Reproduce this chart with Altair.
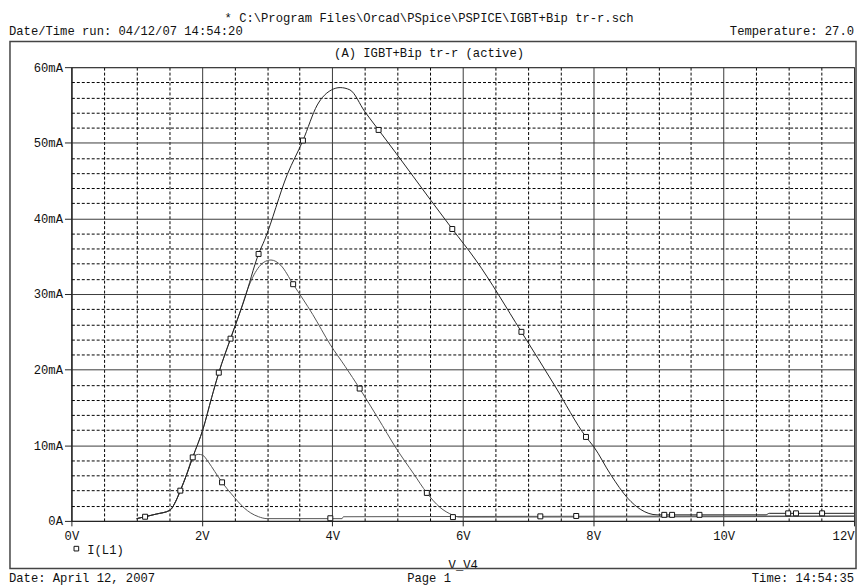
import altair as alt
import pandas as pd

FONT = "Liberation Mono, Courier New, monospace"
FS = 12.3
INK = "#111111"

# ---- header / footer texts ----
file_title = "* C:\\Program Files\\Orcad\\PSpice\\PSPICE\\IGBT+Bip tr-r.sch"
run_text = "Date/Time run: 04/12/07 14:54:20"
temp_text = "Temperature: 27.0"
plot_title = "(A) IGBT+Bip tr-r (active)"
date_text = "Date: April 12, 2007"
page_text = "Page 1"
time_text = "Time: 14:54:35"
x_title = "V_V4"
legend_label = "I(L1)"

# ---- traces (V in volts, I in mA) ----
c1_v = [1.00, 1.13, 1.30, 1.51, 1.60, 1.67, 1.77, 1.86, 1.95, 2.01, 2.10, 2.20, 2.31, 2.45, 2.55,
        2.65, 2.75, 2.87, 3.00, 4.15, 4.17, 12.0]
c1_i = [0.3, 0.55, 0.9, 1.4, 2.6, 4.0, 6.2, 8.4, 8.8, 8.7, 7.8, 6.5, 5.1, 3.6, 2.6,
        1.7, 1.05, 0.55, 0.3, 0.3, 0.55, 0.65]

cA_v = [1.00, 1.13, 1.30, 1.51, 1.60, 1.67, 1.77, 1.86, 2.02, 2.15, 2.26, 2.44, 2.60, 2.70, 2.86,
        2.95, 3.06, 3.21, 3.40, 3.70, 3.97, 4.20, 4.42, 4.70, 4.98, 5.25, 5.45, 5.65, 5.84, 5.95, 12.0]
cA_i = [0.3, 0.55, 0.9, 1.4, 2.6, 4.0, 6.2, 8.4, 12.2, 16.3, 19.6, 24.1, 28.0, 30.6, 33.4,
        34.2, 34.5, 33.8, 31.3, 27.3, 23.3, 20.4, 17.5, 13.6, 9.6, 6.2, 3.7, 1.8, 0.8, 0.5, 0.6]

cB_v = [1.00, 1.13, 1.30, 1.51, 1.60, 1.67, 1.77, 1.86, 2.02, 2.15, 2.26, 2.44, 2.65, 2.87, 2.96,
        3.31, 3.55, 3.77, 3.99, 4.12, 4.27, 4.50, 4.71, 4.98, 5.51, 5.84, 6.20, 6.90, 7.41, 7.89,
        8.01, 8.27, 8.53, 8.73, 8.98, 10.65, 10.70, 12.0]
cB_i = [0.3, 0.55, 0.9, 1.4, 2.6, 4.0, 6.2, 8.4, 12.2, 16.3, 19.6, 24.1, 29.2, 35.3, 37.1,
        45.8, 50.3, 55.0, 57.0, 57.3, 57.0, 54.1, 51.7, 48.6, 42.4, 38.6, 34.5, 25.0, 17.9, 11.1,
        9.8, 6.1, 3.0, 1.5, 0.8, 0.8, 1.0, 1.0]

# ---- trace markers ----
marker_v = [1.13, 1.67, 1.86, 2.26, 2.44, 2.31, 2.87, 3.40, 3.55, 3.97, 4.42, 4.71, 5.45, 5.84,
            5.85, 6.90, 7.19, 7.74, 7.89, 9.09, 9.21, 9.63, 10.99, 11.11, 11.51]
marker_i = [0.55, 4.0, 8.4, 19.6, 24.1, 5.1, 35.3, 31.3, 50.3, 0.35, 17.5, 51.7, 3.7, 38.6,
            0.5, 25.0, 0.6, 0.65, 11.1, 0.8, 0.8, 0.8, 1.0, 1.0, 1.0]

trace_names = ["t1", "t2", "t3"]
trace_colors = ["#555555", "#555555", "#222222"]

x_ticks = [i * 0.5 for i in range(25)]
y_ticks = list(range(0, 61, 2))

rows = []
for name, vs, cs in zip(trace_names, [c1_v, cA_v, cB_v], [c1_i, cA_i, cB_i]):
    for v, c in zip(vs, cs):
        rows.append({"trace": name, "V": v, "I": c})
lines_df = pd.DataFrame(rows)
markers_df = pd.DataFrame({"V": marker_v, "I": marker_i})

minor_x = "datum.value % 2 != 0"
minor_y = "datum.value % 10 != 0"

x_axis = alt.Axis(
    values=x_ticks,
    labelExpr="datum.value % 2 == 0 ? datum.value + 'V' : ''",
    labelOverlap=False,
    grid=True,
    gridDash={"condition": {"test": minor_x, "value": [3, 2]}, "value": []},
    gridColor={"condition": {"test": minor_x, "value": "#000000"}, "value": "#3a3a3a"},
    gridWidth=1,
    tickOpacity={"condition": {"test": minor_x, "value": 0}, "value": 1},
    tickSize=5, tickColor="#222222", domainColor="#222222",
    labelFont=FONT, labelFontSize=FS, labelColor=INK, labelPadding=4, labelBaseline="top",
    labelAlign={"condition": {"test": "datum.value >= 12", "value": "right"}, "value": "center"},
    title=x_title, titleFont=FONT, titleFontSize=FS, titleFontWeight="normal", titleColor=INK,
    titleX=395, titleY=48, titleBaseline="alphabetic", titleAlign="center",
)
y_axis = alt.Axis(
    values=y_ticks,
    labelExpr="datum.value % 10 == 0 ? (datum.value == 0 ? '0A' : datum.value + 'mA') : ''",
    labelOverlap=False,
    grid=True,
    gridDash={"condition": {"test": minor_y, "value": [3, 2]}, "value": []},
    gridColor={"condition": {"test": minor_y, "value": "#000000"}, "value": "#3a3a3a"},
    gridWidth=1,
    tickOpacity={"condition": {"test": minor_y, "value": 0}, "value": 1},
    tickSize=7, tickColor="#222222", domainColor="#222222",
    labelFont=FONT, labelFontSize=FS, labelColor=INK, labelPadding=2,
    labelBaseline="middle", labelAlign="right",
    title=None,
)

x_scale = alt.Scale(domain=[0, 12], nice=False, zero=False)
y_scale = alt.Scale(domain=[0, 60], nice=False)

lines = alt.Chart(lines_df).mark_line(interpolate="monotone", strokeWidth=1).encode(
    x=alt.X("V:Q", scale=x_scale, axis=x_axis),
    y=alt.Y("I:Q", scale=y_scale, axis=y_axis),
    color=alt.Color("trace:N", scale=alt.Scale(domain=trace_names, range=trace_colors), legend=None),
)

markers = alt.Chart(markers_df).mark_point(
    shape="square", size=25, filled=True, fill="white", stroke=INK, strokeWidth=1, opacity=1
).encode(
    x=alt.X("V:Q", scale=x_scale, axis=x_axis),
    y=alt.Y("I:Q", scale=y_scale, axis=y_axis),
)

one = pd.DataFrame({"k": [0]})
frame = alt.Chart(one).mark_rect(fillOpacity=0, stroke="#444444", strokeWidth=1.5).encode(
    x=alt.value(-62), x2=alt.value(792), y=alt.value(-26), y2=alt.value(506)
)

# legend entry (symbol + label) below the x axis
legend_symbol = alt.Chart(one).mark_point(
    shape="square", size=22, filled=True, fill="white", stroke=INK, strokeWidth=1, opacity=1
).encode(x=alt.value(5), y=alt.value(486))


def label(txt, x, y, align, baseline="alphabetic"):
    return alt.Chart(pd.DataFrame({"t": [txt]})).mark_text(
        font=FONT, fontSize=FS, color=INK, align=align, baseline=baseline
    ).encode(x=alt.value(x), y=alt.value(y), text="t:N")


texts = [
    label(file_title, 361, -46, "center"),
    label(run_text, -63, -32, "left"),
    label(temp_text, 790, -32, "right"),
    label(plot_title, 361, -10, "center"),
    label(legend_label, 16, 491, "left"),
    label(date_text, -63, 520, "left"),
    label(page_text, 361, 520, "center"),
    label(time_text, 790, 520, "right"),
]

chart = alt.layer(lines, markers, frame, legend_symbol, *texts).properties(
    width=790, height=458,
    autosize=alt.AutoSizeParams(type="none"),
    padding={"left": 64, "top": 57, "right": 4, "bottom": 64},
    background="white",
).configure_view(stroke="#333333", strokeWidth=1)

chart.save("out.html", embed_options={"renderer": "svg", "actions": False})
